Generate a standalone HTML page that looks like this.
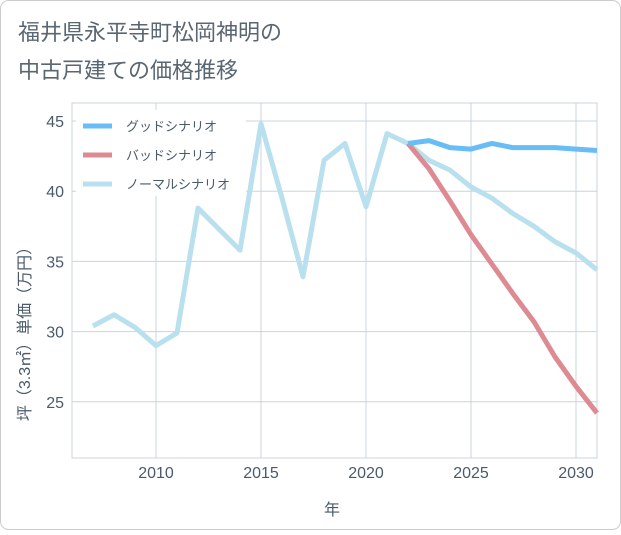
<!DOCTYPE html>
<html><head><meta charset="utf-8"><style>
body{margin:0;background:#fff;}
svg text{font-family:"Liberation Sans","Noto Sans CJK JP",sans-serif;}
</style></head><body>
<svg id="c" width="621" height="530" xmlns="http://www.w3.org/2000/svg">
<rect x="0.5" y="0.5" width="620" height="529" rx="8" fill="#fff" stroke="#ccc"/>
<text x="18" y="40" font-size="22" fill="#5a6672">福井県永平寺町松岡神明の</text>
<text x="18" y="78" font-size="22" fill="#5a6672">中古戸建ての価格推移</text>
<g id="grid"></g>
<g id="series"></g>
<g id="legend"></g>
<text x="332" y="515" font-size="16" fill="#4a5a6a" text-anchor="middle">年</text>
<text transform="translate(30,330) rotate(-90)" font-size="16" fill="#4a5a6a" text-anchor="middle">坪（3.3㎡）単価（万円）</text>
</svg>
<script>
const years=[2007,2008,2009,2010,2011,2012,2013,2014,2015,2016,2017,2018,2019,2020,2021,2022,2023,2024,2025,2026,2027,2028,2029,2030,2031];
const normal=[30.4,31.2,30.3,29.0,29.9,38.8,37.3,35.8,44.8,39.5,33.9,42.2,43.4,38.9,44.1,43.4,42.2,41.5,40.3,39.5,38.4,37.5,36.4,35.6,34.4];
const goodYears=[2022,2023,2024,2025,2026,2027,2028,2029,2030,2031];
const good=[43.4,43.6,43.1,43.0,43.4,43.1,43.1,43.1,43.0,42.9];
const bad=[43.4,41.6,39.3,36.9,34.8,32.7,30.7,28.2,26.1,24.2];
const xTicks=[2010,2015,2020,2025,2030];
const yTicks=[25,30,35,40,45];
const legendLabels=["グッドシナリオ","バッドシナリオ","ノーマルシナリオ"];
const NS="http://www.w3.org/2000/svg";
const L=72,R=597,T=103,B=458;
const xs=y=>156+(y-2010)*21;
const ys=v=>121+(45-v)*14.04;
function mk(t,a,p){const e=document.createElementNS(NS,t);for(const k in a)e.setAttribute(k,a[k]);p.appendChild(e);return e;}
const g=document.getElementById('grid');
const f=mk('rect',{x:L,y:T,width:R-L,height:B-T,fill:'none',stroke:'#c8d4df'},g);


xTicks.forEach(t=>{const l=mk('line',{x1:xs(t),x2:xs(t),y1:T,y2:B,stroke:'#c8d4df'},g);


const tx=mk('text',{x:xs(t),y:478,'font-size':16,fill:'#4a5a6a','text-anchor':'middle'},g);tx.textContent=t;

});
yTicks.forEach(t=>{const l=mk('line',{x1:L,x2:R,y1:ys(t),y2:ys(t),stroke:'#c8d4df'},g);


const tx=mk('text',{x:64,y:ys(t)+6,'font-size':16,fill:'#4a5a6a','text-anchor':'end'},g);tx.textContent=t;

});
const s=document.getElementById('series');
function line(xv,yv,color,name){const p=mk('polyline',{points:xv.map((x,i)=>xs(x)+','+ys(yv[i])).join(' '),fill:'none',stroke:color,'stroke-width':5,'stroke-linejoin':'round'},s);

}
line(years,normal,'#b9e0ee','normal-scenario-line');
line(goodYears,bad,'#de8a92','bad-scenario-line');
line(goodYears,good,'#68bdf6','good-scenario-line');
const lg=document.getElementById('legend');
const bg=mk('rect',{x:76,y:110,width:170,height:86,fill:'#fff'},lg);


const cols=['#68bdf6','#de8a92','#b9e0ee'];
legendLabels.forEach((lab,i)=>{const y=126+i*29;
const l=mk('line',{x1:83,x2:112,y1:y,y2:y,stroke:cols[i],'stroke-width':5},lg);


const tx=mk('text',{x:126,y:y+5,'font-size':13,fill:'#4a5a6a'},lg);tx.textContent=lab;

});
</script>
</body></html>
